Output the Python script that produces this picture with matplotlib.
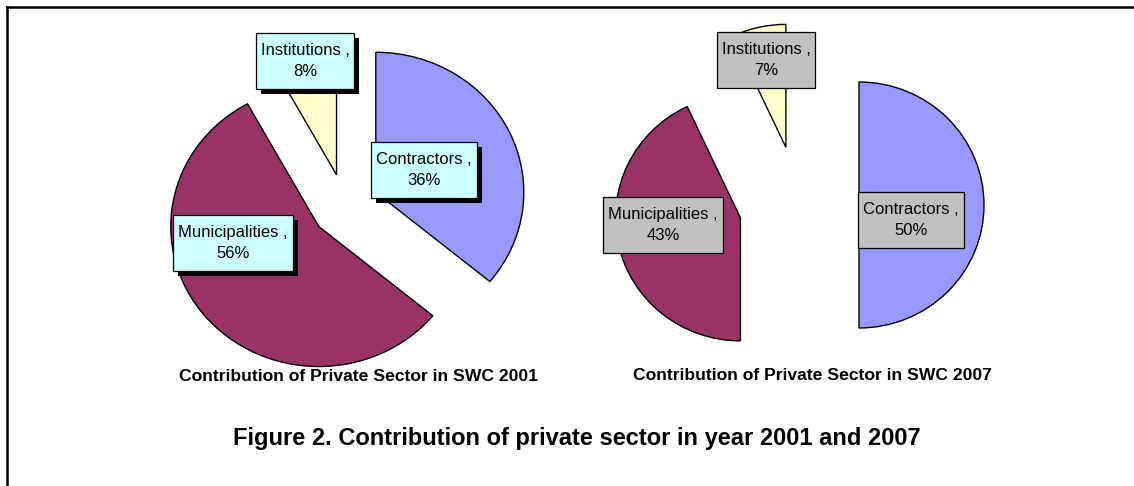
import matplotlib
matplotlib.use('Agg')
import matplotlib.pyplot as plt
from matplotlib.patches import Rectangle

plt.rcParams['font.family'] = ['Liberation Sans', 'DejaVu Sans']

# data, in Excel order (clockwise from 12 o'clock)
categories = ['Contractors', 'Municipalities', 'Institutions']
share_2001 = [36, 56, 8]
share_2007 = [50, 43, 7]
colors = ['#9999FF', '#993366', '#FFFFCC']

W, H = 1134, 486
fig = plt.figure(figsize=(W / 100, H / 100), dpi=100)
renderer = fig.canvas.get_renderer()


def px_axes(cx, cy, rx, ry, half=210):
    # axes in figure pixels, centred on the pie centre, radius 1 in data units
    ax = fig.add_axes([(cx - half) / W, 1 - (cy + half) / H, 2 * half / W, 2 * half / H])
    return ax, half / rx, half / ry


def draw_pie(ax, sx, sy, values, explode):
    ax.pie(values, colors=colors, startangle=90, counterclock=False,
           explode=[explode] * len(values),
           wedgeprops=dict(edgecolor='black', linewidth=1.0))
    ax.set_aspect('auto')
    ax.set_xlim(-sx, sx)
    ax.set_ylim(-sy, sy)
    ax.axis('off')


def label(x, y, txt, face, shadow, padx=5, pady=10):
    t = fig.text(x / W, 1 - y / H, txt, ha='center', va='center', fontsize=12,
                 linespacing=1.45, zorder=5)
    bb = t.get_window_extent(renderer)
    x0, y0 = bb.x0 - padx, bb.y0 - pady
    w, h = bb.width + 2 * padx, bb.height + 2 * pady
    if shadow:
        fig.add_artist(Rectangle((x0 + 5, y0 - 5), w, h, transform=None,
                                 facecolor='black', edgecolor='none', zorder=3))
    fig.add_artist(Rectangle((x0, y0), w, h, transform=None, facecolor=face,
                             edgecolor='black', linewidth=0.9, zorder=4))
    return t


# left pie 2001
ax1, sx1, sy1 = px_axes(345, 206, 148, 140)
draw_pie(ax1, sx1, sy1, share_2001, 0.23)

# right pie 2007
ax2, sx2, sy2 = px_axes(799, 205, 125, 123)
draw_pie(ax2, sx2, sy2, share_2007, 0.48)

left_pos = [(424, 170), (233, 243), (305, 61)]
right_pos = [(911, 220), (663, 225), (766, 60)]
for name, v, (x, y) in zip(categories, share_2001, left_pos):
    label(x, y, f'{name} ,\n{v}%', '#CCFFFF', True)
for name, v, (x, y) in zip(categories, share_2007, right_pos):
    label(x, y, f'{name} ,\n{v}%', '#C0C0C0', False)

fig.text(358 / W, 1 - 376 / H, 'Contribution of Private Sector in SWC 2001',
         ha='center', va='center', fontsize=12.6, fontweight='bold')
fig.text(812 / W, 1 - 375 / H, 'Contribution of Private Sector in SWC 2007',
         ha='center', va='center', fontsize=12.6, fontweight='bold')
fig.text(577 / W, 1 - 438 / H, 'Figure 2. Contribution of private sector in year 2001 and 2007',
         ha='center', va='center', fontsize=17, fontweight='bold')

# frame lines on top and left edges
fig.add_artist(plt.Line2D([7 / W, 1], [1 - 7 / H, 1 - 7 / H], color='black', linewidth=1.8))
fig.add_artist(plt.Line2D([7 / W, 7 / W], [0, 1 - 7 / H], color='black', linewidth=1.8))

fig.savefig('out.png', dpi=100)
